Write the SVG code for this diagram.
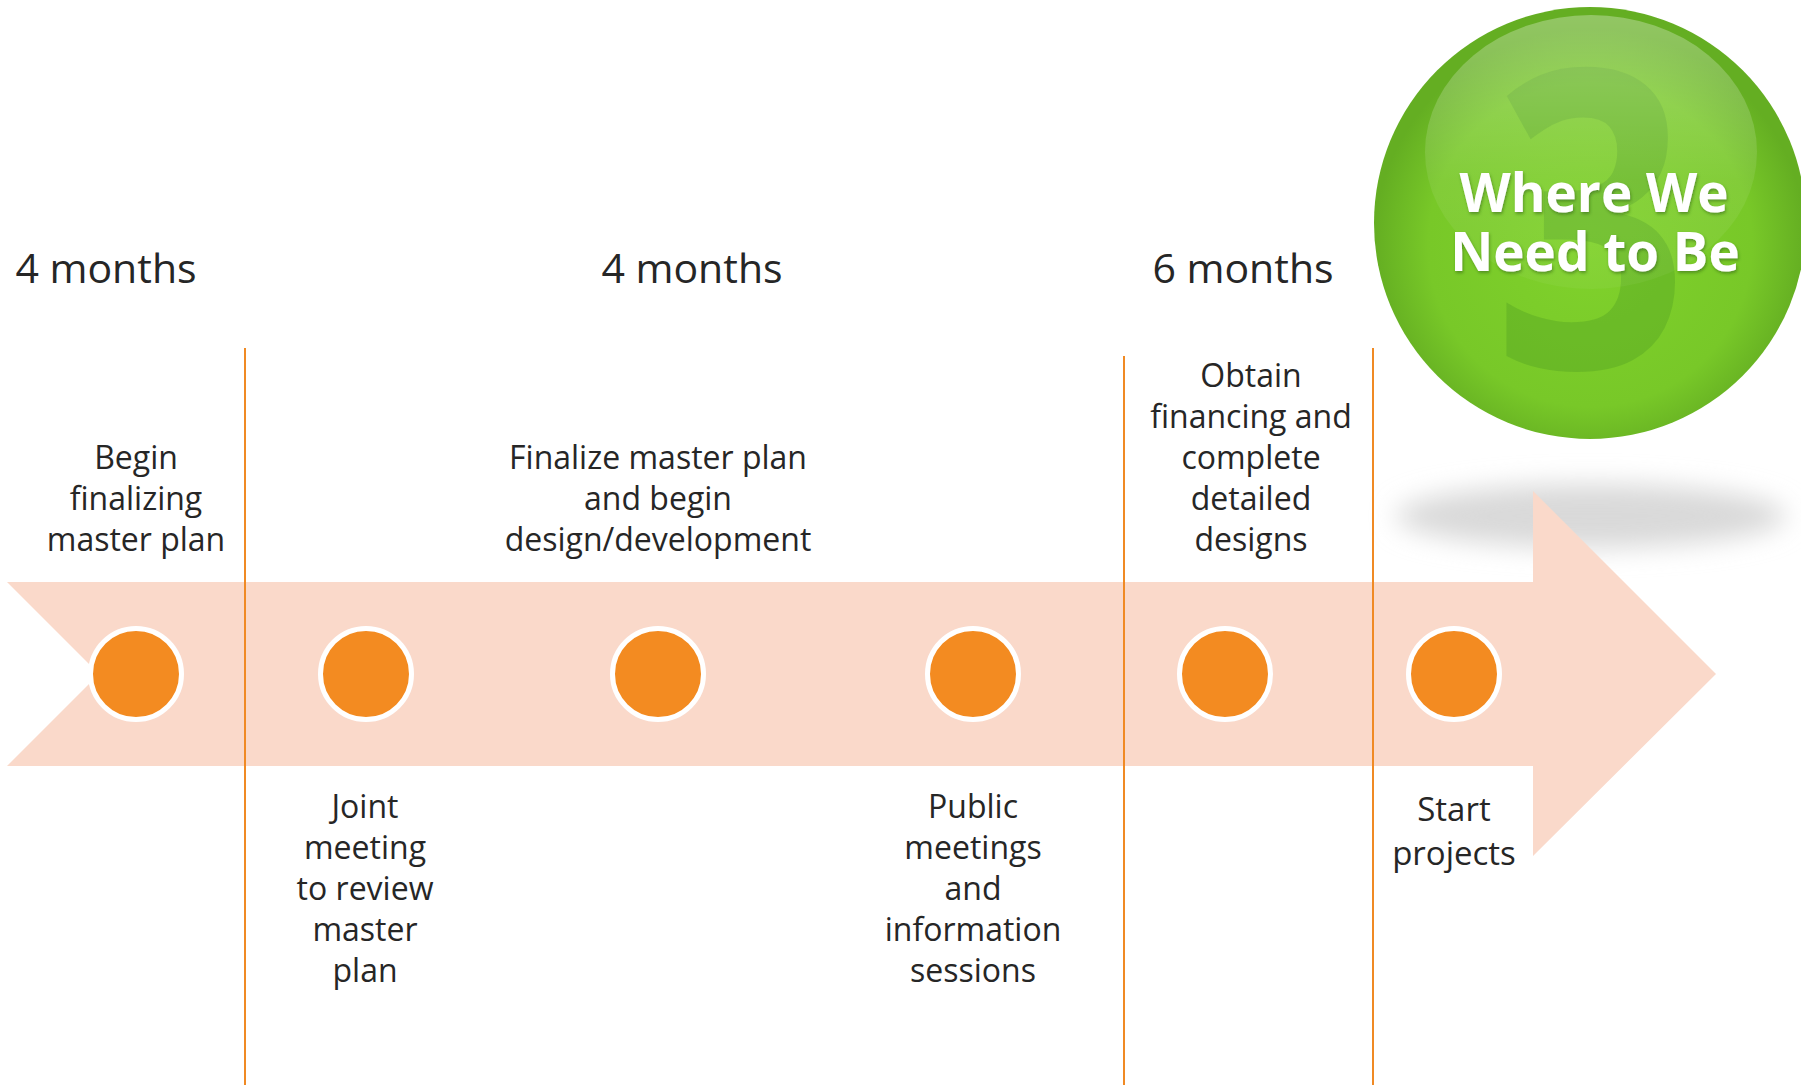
<svg xmlns="http://www.w3.org/2000/svg" width="1801" height="1085" viewBox="0 0 1801 1085">
<defs>
<style>
.lbl{font-family:"Open Sans","Liberation Sans",sans-serif;font-size:32px;fill:#262626;text-anchor:middle}
.mon{font-family:"Open Sans","Liberation Sans",sans-serif;font-size:41px;fill:#262626;text-anchor:middle}
.vline{stroke:#F08A24;stroke-width:2;fill:none}
.dot{fill:#F38B21;stroke:#FFFFFF;stroke-width:5}
.ttl{font-family:"Open Sans","Liberation Sans",sans-serif;font-weight:700;font-size:53px;fill:#FFFFFF;text-anchor:middle}
</style>
<radialGradient id="gball" cx="0.5" cy="0.55" r="0.5">
<stop offset="0" stop-color="#80D22C"/>
<stop offset="0.75" stop-color="#78C828"/>
<stop offset="1" stop-color="#64AE22"/>
</radialGradient>
<linearGradient id="ghi" x1="0" y1="0" x2="0" y2="1">
<stop offset="0" stop-color="#FFFFFF" stop-opacity="0.3"/>
<stop offset="0.6" stop-color="#FFFFFF" stop-opacity="0.08"/>
<stop offset="1" stop-color="#FFFFFF" stop-opacity="0.04"/>
</linearGradient>
<filter id="blur" x="-20%" y="-100%" width="140%" height="300%">
<feGaussianBlur stdDeviation="13"/>
</filter>
<filter id="tsh" x="-10%" y="-20%" width="120%" height="150%">
<feDropShadow dx="1" dy="2" stdDeviation="1.5" flood-color="#2a5a10" flood-opacity="0.5"/>
</filter>
</defs>
<rect width="1801" height="1085" fill="#FFFFFF"/>

<g id="ball">
<ellipse cx="1591" cy="516" rx="195" ry="32" fill="#D9D9D9" filter="url(#blur)"/>
<circle cx="1590" cy="223" r="216" fill="url(#gball)"/>
<text x="0" y="0" transform="translate(1591,368) scale(0.82,1)" font-family="Open Sans, Liberation Sans, sans-serif" font-weight="700" font-size="416" fill="#4E9A22" fill-opacity="0.35" text-anchor="middle">3</text>
<ellipse cx="1591" cy="152" rx="166" ry="137" fill="url(#ghi)"/>
<g filter="url(#tsh)">
<text class="ttl" x="1594" y="212">Where We</text>
<text class="ttl" x="1595" y="271">Need to Be</text>
</g>
</g>

<g id="arrow">
<polygon points="7,582 1533,582 1533,491 1716,674 1533,856 1533,766 7,766 99,674" fill="#FAD9CA"/>
</g>

<g id="connectors">
<line class="vline" x1="245" y1="348" x2="245" y2="1085"/>
<line class="vline" x1="1124" y1="356" x2="1124" y2="1085"/>
<line class="vline" x1="1373" y1="348" x2="1373" y2="1085"/>
</g>

<g id="months">
<text class="mon" x="106" y="283">4 months</text>
<text class="mon" x="692" y="283">4 months</text>
<text class="mon" x="1243" y="283">6 months</text>
</g>

<g id="node1">
<circle class="dot" cx="136" cy="674" r="45.5"/>
<text class="lbl" x="136" y="469">Begin</text>
<text class="lbl" x="136" y="510">finalizing</text>
<text class="lbl" x="136" y="551">master plan</text>
</g>
<g id="node2">
<circle class="dot" cx="366" cy="674" r="45.5"/>
<text class="lbl" x="365" y="818">Joint</text>
<text class="lbl" x="365" y="859">meeting</text>
<text class="lbl" x="365" y="900">to review</text>
<text class="lbl" x="365" y="941">master</text>
<text class="lbl" x="365" y="982">plan</text>
</g>
<g id="node3">
<circle class="dot" cx="658" cy="674" r="45.5"/>
<text class="lbl" x="658" y="469">Finalize master plan</text>
<text class="lbl" x="658" y="510">and begin</text>
<text class="lbl" x="658" y="551">design/development</text>
</g>
<g id="node4">
<circle class="dot" cx="973" cy="674" r="45.5"/>
<text class="lbl" x="973" y="818">Public</text>
<text class="lbl" x="973" y="859">meetings</text>
<text class="lbl" x="973" y="900">and</text>
<text class="lbl" x="973" y="941">information</text>
<text class="lbl" x="973" y="982">sessions</text>
</g>
<g id="node5">
<circle class="dot" cx="1225" cy="674" r="45.5"/>
<text class="lbl" x="1251" y="387">Obtain</text>
<text class="lbl" x="1251" y="428">financing and</text>
<text class="lbl" x="1251" y="469">complete</text>
<text class="lbl" x="1251" y="510">detailed</text>
<text class="lbl" x="1251" y="551">designs</text>
</g>
<g id="node6">
<circle class="dot" cx="1454" cy="674" r="45.5"/>
<text class="lbl" x="1454" y="821" style="font-size:33px">Start</text>
<text class="lbl" x="1454" y="865" style="font-size:33px">projects</text>
</g>
</svg>
